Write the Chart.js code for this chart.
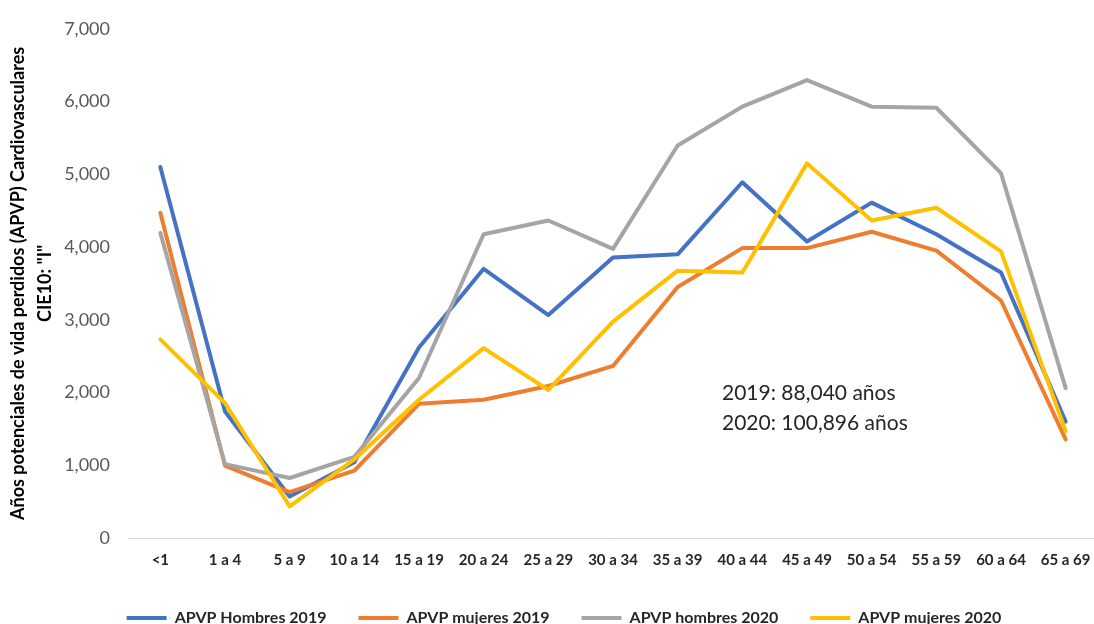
<!DOCTYPE html>
<html>
<head>
<meta charset="utf-8">
<script src="https://cdn.jsdelivr.net/npm/chart.js@4"></script>
<style>
html,body{margin:0;padding:0;overflow:hidden;background:#fff;width:1094px;height:624px;}
#wrap{position:absolute;left:0;top:0;width:1100px;height:640px;}
</style>
</head>
<body>
<div id="wrap"><canvas id="c" width="1100" height="640"></canvas></div>
<script>
const categories = ["<1","1 a 4","5 a 9","10 a 14","15 a 19","20 a 24","25 a 29","30 a 34","35 a 39","40 a 44","45 a 49","50 a 54","55 a 59","60 a 64","65 a 69"];
const hombres2019 = [5100,1740,570,1040,2620,3700,3065,3855,3900,4890,4075,4610,4175,3650,1600];
const mujeres2019 = [4470,995,630,925,1845,1900,2090,2365,3450,3985,3985,4210,3950,3265,1355];
const hombres2020 = [4195,1015,825,1115,2200,4175,4365,3975,5395,5930,6295,5930,5915,5015,2060];
const mujeres2020 = [2730,1855,435,1080,1900,2610,2035,2975,3675,3650,5150,4365,4540,3940,1470];
const seriesNames = ["APVP Hombres 2019","APVP mujeres 2019","APVP hombres 2020","APVP mujeres 2020"];
const seriesColors = ["#4472C4","#ED7D31","#A5A5A5","#FFC000"];
const yTitle = ["Años potenciales de vida perdidos (APVP) Cardiovasculares", "CIE10: \"I\""];
const noteLines = ["2019: 88,040 años", "2020: 100,896 años"];

const allSeries = [hombres2019, mujeres2019, hombres2020, mujeres2020];
const datasets = allSeries.map((d, i) => ({
  label: seriesNames[i],
  data: d,
  borderColor: seriesColors[i],
  backgroundColor: seriesColors[i],
  borderWidth: 4,
  pointRadius: 0,
  tension: 0,
  borderJoinStyle: 'round',
  borderCapStyle: 'round',
  order: 4 - i
}));

const notePlugin = {
  id: 'note',
  afterDraw(chart) {
    const ctx = chart.ctx;
    ctx.save();
    ctx.font = '21px Lato';
    ctx.fillStyle = '#262626';
    ctx.textAlign = 'left';
    ctx.textBaseline = 'middle';
    ctx.fillText(noteLines[0], 722, 393);
    ctx.fillText(noteLines[1], 722, 423);
    ctx.restore();
  }
};

new Chart(document.getElementById('c'), {
  type: 'line',
  data: { labels: categories, datasets },
  plugins: [notePlugin],
  options: {
    responsive: false,
    animation: false,
    devicePixelRatio: 1,
    layout: { padding: { left: 30, right: 2, top: 23, bottom: 4 } },
    plugins: {
      tooltip: { enabled: false },
      legend: {
        position: 'bottom',
        labels: {
          boxWidth: 40,
          boxHeight: 4,
          padding: 32,
          color: '#262626',
          font: { family: 'Lato', size: 16, weight: 'bold' },
          sort: (a, b) => a.datasetIndex - b.datasetIndex,
          generateLabels: (chart) => Chart.defaults.plugins.legend.labels.generateLabels(chart).map(l => Object.assign(l, { lineWidth: 0 }))
        }
      }
    },
    scales: {
      x: {
        offset: true,
        grid: { display: false, drawTicks: false, offset: true },
        border: { display: true, color: '#D9D9D9', width: 1 },
        ticks: { color: '#262626', padding: 13, maxRotation: 0, font: { family: 'Lato', size: 15, weight: 'bold' } },
        afterFit: (s) => { s.height = 40; s.paddingLeft = 0; s.paddingRight = 0; }
      },
      y: {
        min: 0,
        max: 7000,
        grid: { display: false, drawTicks: false },
        border: { display: false },
        ticks: {
          stepSize: 1000,
          padding: 18,
          color: '#595959',
          font: { family: 'Lato', size: 18 },
          callback: (v) => v.toLocaleString('en-US')
        },
        title: {
          display: true,
          text: yTitle,
          color: '#000',
          padding: { top: -25.5, bottom: 0 },
          font: { family: 'Lato', size: 18, weight: 'bold', lineHeight: 1.5 }
        },
        afterFit: (s) => { s.width = 98; }
      }
    }
  }
});
</script>
</body>
</html>
